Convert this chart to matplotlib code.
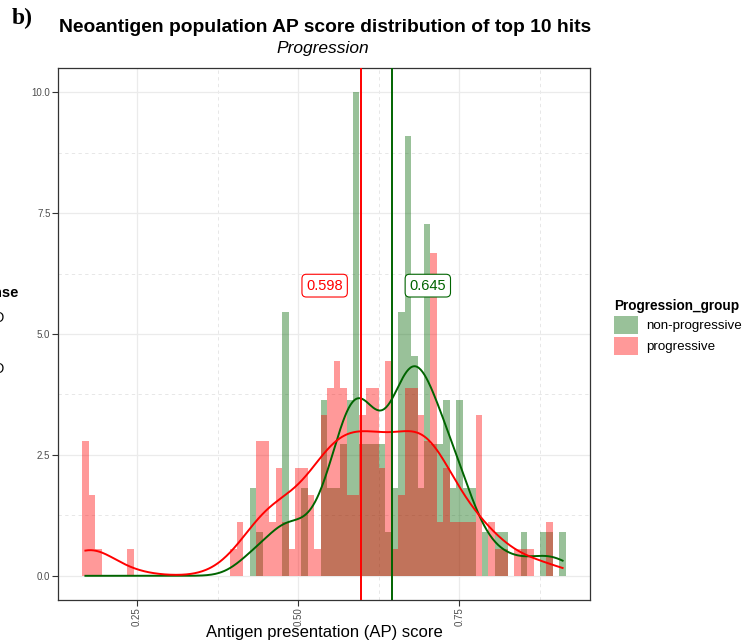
import matplotlib.pyplot as plt
import numpy as np
from matplotlib.patches import Patch

plt.rcParams['font.family'] = ['Liberation Sans', 'DejaVu Sans']

# histogram bins of width 0.01, labelled by their centres
centres = np.round(np.arange(0.17, 0.915, 0.01), 2)

# counts per bin, progressive group
prog_counts = [5, 3, 1, 0, 0, 0, 0, 1, 0, 0,
               0, 0, 0, 0, 0, 0, 0, 0, 0, 0,
               0, 0, 0, 1, 2, 0, 0, 5, 5, 2,
               4, 2, 1, 4, 4, 3, 1, 6, 7, 8,
               7, 3, 3, 6, 7, 7, 4, 8, 1, 3,
               7, 7, 6, 5, 12, 2, 4, 2, 2, 2,
               2, 6, 0, 2, 1, 1, 0, 1, 1, 1,
               0, 0, 2, 0, 0]
# counts per bin, non-progressive group
nonprog_counts = [0, 0, 0, 0, 0, 0, 0, 0, 0, 0,
                  0, 0, 0, 0, 0, 0, 0, 0, 0, 0,
                  0, 0, 0, 0, 0, 0, 2, 1, 0, 0,
                  0, 6, 0, 0, 2, 0, 0, 4, 2, 2,
                  3, 4, 11, 3, 3, 3, 3, 1, 2, 6,
                  10, 5, 2, 8, 3, 3, 4, 2, 4, 2,
                  2, 0, 1, 0, 1, 1, 0, 0, 1, 0,
                  0, 1, 1, 0, 1]

groups = ['non-progressive', 'progressive']
fills = ['darkgreen', 'red']
group_means = [0.645, 0.598]
mean_labels = ['0.645', '0.598']

prog = np.repeat(centres, prog_counts)
nonprog = np.repeat(centres, nonprog_counts)
samples = [nonprog, prog]

# both density curves are evaluated over the range of all scores
all_scores = np.concatenate(samples)
grid = np.linspace(all_scores.min(), all_scores.max(), 512)


def kde_nrd0(x, grid):
    # gaussian kernel density, bandwidth as R's bw.nrd0
    sd = np.std(x, ddof=1)
    iqr = np.percentile(x, 75) - np.percentile(x, 25)
    bw = 0.9 * min(sd, iqr / 1.34) * len(x) ** -0.2
    z = (grid[:, None] - x[None, :]) / bw
    return np.exp(-0.5 * z ** 2).sum(axis=1) / (len(x) * bw * np.sqrt(2 * np.pi))


fig = plt.figure(figsize=(7.43, 6.44), dpi=100)
ax = fig.add_axes([58 / 743, 44 / 644, 532 / 743, 532 / 644])

edges = np.round(np.arange(0.165, 0.92, 0.01), 3)
for s, c in zip(samples, fills):
    ax.hist(s, bins=edges, density=True, color=c, alpha=0.4, linewidth=0, zorder=2)

for s, c in zip(samples, fills):
    ax.plot(grid, kde_nrd0(s, grid), color=c, lw=1.4, zorder=3)

for m, lab, c in zip(group_means, mean_labels, fills):
    ax.axvline(m, color=c, lw=1.4, zorder=4)
    off = 0.056 if m > 0.62 else -0.057
    ax.text(m + off, 6.0, lab, color=c, fontsize=10.5, ha='center', va='center', zorder=5,
            bbox=dict(boxstyle='round,pad=0.3,rounding_size=0.3', fc='white', ec=c, lw=0.8))

ax.set_xlim(0.1275, 0.9525)
ax.set_ylim(-0.5, 10.5)
ax.set_xticks([0.25, 0.5, 0.75])
ax.set_xticklabels(['0.25', '0.50', '0.75'], rotation=90)
ax.set_yticks([0, 2.5, 5, 7.5, 10])
ax.set_yticklabels(['0.0', '2.5', '5.0', '7.5', '10.0'])
ax.set_xticks([0.375, 0.625, 0.875], minor=True)
ax.set_yticks([1.25, 3.75, 6.25, 8.75], minor=True)
ax.tick_params(which='major', length=4, width=0.8, color='#333333', labelsize=7,
               labelcolor='#4d4d4d', pad=1.5)
ax.tick_params(which='minor', length=0)
ax.grid(which='major', color='#ebebeb', lw=0.9, zorder=0)
ax.grid(which='minor', color='#e3e3e3', lw=0.6, ls=(0, (4, 4)), zorder=0)
ax.set_axisbelow(True)
for sp in ax.spines.values():
    sp.set_color('#333333')
    sp.set_linewidth(0.9)

ax.set_xlabel('Antigen presentation (AP) score', fontsize=12, va='center')
ax.xaxis.set_label_coords(0.5, (11 - 44) / 532)

fig.text(0.437, 1 - 27 / 644, 'Neoantigen population AP score distribution of top 10 hits',
         ha='center', va='center', fontsize=13.9, fontweight='bold')
fig.text(0.435, 1 - 49 / 644, 'Progression', ha='center', va='center',
         fontsize=12.5, style='italic')
fig.text(12 / 743, 1 - 18 / 644, 'b)', ha='left', va='center', fontsize=17,
         fontweight='bold', family='Liberation Serif')

# right legend
handles = [Patch(facecolor=c, alpha=0.4, edgecolor='none') for c in fills]
fig.legend(handles, groups, title='Progression_group', loc='upper left',
           bbox_to_anchor=(609 / 743, 1 - 294 / 644), frameon=False, fontsize=9.6,
           title_fontproperties={'weight': 'bold', 'size': 9.8},
           handlelength=1.8, handleheight=1.73, handletextpad=0.55, labelspacing=0.2,
           borderaxespad=0, alignment='left')

# neighbouring panel's legend, clipped at the left edge
fig.text(18 / 743, 1 - 293 / 644, 'Response', ha='right', va='center',
         fontsize=10.5, fontweight='bold')
fig.text(5 / 743, 1 - 318 / 644, 'PD', ha='right', va='center', fontsize=10)
fig.text(5 / 743, 1 - 369 / 644, 'SD', ha='right', va='center', fontsize=10)

fig.savefig('out.png', dpi=100)
